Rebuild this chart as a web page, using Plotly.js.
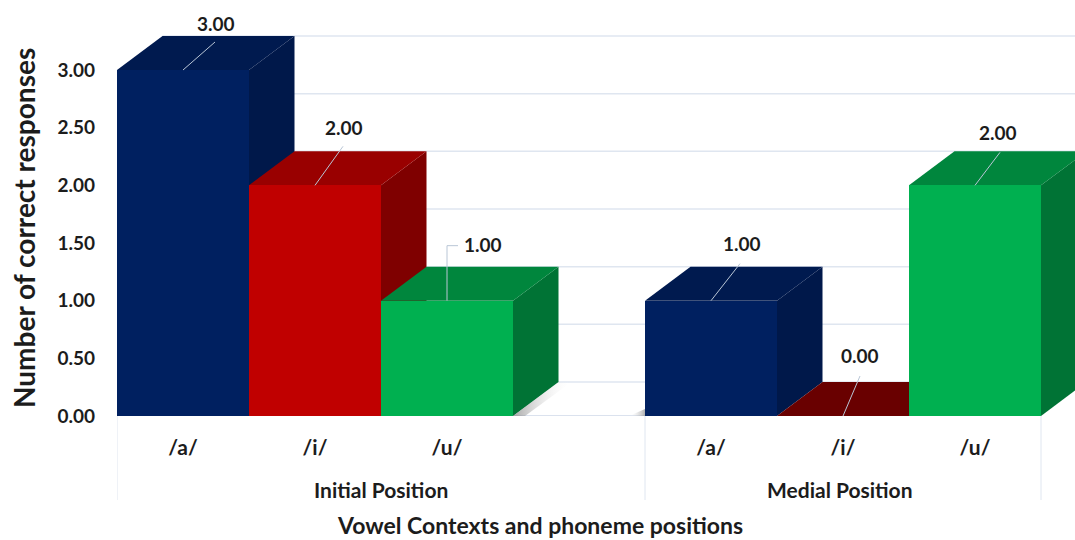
<!DOCTYPE html>
<html>
<head>
<meta charset="utf-8">
<script src="https://cdn.plot.ly/plotly-3.0.1.min.js"></script>
<style>html,body{margin:0;padding:0;background:#fff}#chart{width:1075px;height:540px}</style>
</head>
<body>
<div id="chart"></div>
<script>
// Correct responses per vowel and phoneme position
const vowels = ['/a/', '/i/', '/u/', '/a/', '/i/', '/u/'];
const slots = [0, 1, 2, 4, 5, 6];
const values = [3, 2, 1, 1, 0, 2];
const valueLabels = ['3.00', '2.00', '1.00', '1.00', '0.00', '2.00'];
const groups = ['Initial Position', 'Medial Position'];
const groupCentres = [1.5, 4.98];
const groupEdges = [-0.5, 3.5, 6.5];
const yTicks = [0, 0.5, 1, 1.5, 2, 2.5, 3];
const yTickText = ['0.00', '0.50', '1.00', '1.50', '2.00', '2.50', '3.00'];
const xTitle = 'Vowel Contexts and phoneme positions';
const yTitle = 'Number of correct responses';

// Face colours for each vowel, front / top / side
const frontColours = {'/a/': '#002060', '/i/': '#c00000', '/u/': '#00b050'};
const topColours = {'/a/': '#001a4f', '/i/': '#990000', '/u/': '#00863d'};
const sideColours = {'/a/': '#00184a', '/i/': '#7f0000', '/u/': '#007335'};
const flatTopColour = '#690000';

// Scales: plot area spans 958 x 416 px
const pxPerSlot = 132, pxPerUnit = 115.33;
const plotLeft = 117, plotHeight = 416, plotWidth = 958;
const xRange = [-0.5, -0.5 + plotWidth / pxPerSlot];
const yRange = [0, plotHeight / pxPerUnit];
const depthX = 45.5 / pxPerSlot, depthY = 34 / pxPerUnit;
const FONT = 'Lato, "Open Sans", sans-serif', INK = '#1c1c1c', RULE = '#dfe6f0';

const dxPx = p => p / pxPerSlot, dyPx = p => p / pxPerUnit;

// Leader offsets from the bar's front-top centre, in px (x right, y up), ending at the label
const leaders = [
  [[0, 0], [32, 28]],
  [[0, 0], [28, 39]],
  [[0, 0], [0, 55], [11, 55]],
  [[0, 0], [29, 37]],
  [[0, 0], [17, 40]],
  [[0, 0], [25, 33]]
];
const labelOffsets = [[33, 47], [29, 58], [36, 56], [31, 57], [17, 61], [23, 53]];

const traces = [];

// Shaded side and top faces, painted left to right so nearer bars overlap
slots.forEach((s, i) => {
  const v = values[i], name = vowels[i];
  const l = s - 0.5, r = s + 0.5;
  traces.push({
    type: 'scatter', mode: 'lines', x: [r, r + depthX, r + depthX, r, r], y: [0, depthY, v + depthY, v, 0],
    fill: 'toself', fillcolor: sideColours[name], line: {width: 0}, hoverinfo: 'skip', showlegend: false
  });
  traces.push({
    type: 'scatter', mode: 'lines', x: [l, l + depthX, r + depthX, r, l], y: [v, v + depthY, v + depthY, v, v],
    fill: 'toself', fillcolor: v === 0 ? flatTopColour : topColours[name], line: {width: 0}, hoverinfo: 'skip', showlegend: false
  });
});

// Soft floor shadows either side of the gap between the two groups
const shadow = (x, y, fade) => ({
  type: 'scatter', mode: 'lines', x, y, fill: 'toself', line: {width: 0}, hoverinfo: 'skip', showlegend: false,
  fillcolor: 'rgba(150,150,150,0.5)',
  fillgradient: {type: 'horizontal', colorscale: fade}
});
const fadeOut = [[0, 'rgba(130,130,130,0.7)'], [1, 'rgba(255,255,255,0)']];
const fadeIn = [[0, 'rgba(255,255,255,0)'], [1, 'rgba(140,140,140,0.7)']];
const gapLeft = slots[2] + 0.5, gapRight = slots[3] - 0.5;
traces.splice(6, 0, shadow(
  [gapLeft, gapLeft + depthX, gapLeft + depthX + dxPx(13), gapLeft + dxPx(12), gapLeft],
  [0, depthY, depthY, 0, 0], fadeOut));
traces.splice(0, 0, shadow(
  [gapRight - dxPx(16), gapRight, gapRight, gapRight - dxPx(16)],
  [0, dyPx(7), 0, 0], fadeIn));

// Front faces sit on an overlaid subplot so they paint over the neighbouring faces
traces.push({
  type: 'bar', x: slots, y: values, width: 1, xaxis: 'x2', yaxis: 'y2',
  marker: {color: vowels.map(v => frontColours[v]), line: {width: 0}},
  hoverinfo: 'y', showlegend: false
});

// Leader lines from each bar to its value label
slots.forEach((s, i) => {
  traces.push({
    type: 'scatter', mode: 'lines', xaxis: 'x2', yaxis: 'y2',
    x: leaders[i].map(p => s + dxPx(p[0])),
    y: leaders[i].map(p => values[i] + dyPx(p[1])),
    line: {color: '#b9c6d6', width: 1}, hoverinfo: 'skip', showlegend: false
  });
});

const annotations = slots.map((s, i) => ({
  xref: 'x', yref: 'y', x: s + dxPx(labelOffsets[i][0]), y: values[i] + dyPx(labelOffsets[i][1]),
  text: valueLabels[i], showarrow: false, xanchor: 'center', yanchor: 'middle',
  font: {family: FONT, size: 19, color: INK, weight: 'bold'}
})).concat(groups.map((g, i) => ({
  xref: 'x', yref: 'paper', x: groupCentres[i], y: -73 / plotHeight,
  text: g, showarrow: false, xanchor: 'center', yanchor: 'middle',
  font: {family: FONT, size: 21, color: INK, weight: 'bold'}
}))).concat([{
  // Axis captions are centred on the whole figure rather than the plot area
  xref: 'paper', yref: 'paper', x: (540 - plotLeft) / plotWidth, y: -109 / plotHeight,
  text: xTitle, showarrow: false, xanchor: 'center', yanchor: 'middle',
  font: {family: FONT, size: 23, color: INK, weight: 'bold'}
}, {
  xref: 'paper', yref: 'paper', x: (24 - plotLeft) / plotWidth, y: (416 - 228) / plotHeight,
  text: yTitle, textangle: -90, showarrow: false, xanchor: 'center', yanchor: 'middle',
  font: {family: FONT, size: 28, color: INK, weight: 'bold'}
}]);

// Back-wall gridlines, lifted by the bar depth; baseline and group dividers
const shapes = yTicks.map(t => ({
  type: 'line', layer: 'below', xref: 'x', yref: 'y',
  x0: depthX - 0.5, x1: xRange[1], y0: t + depthY, y1: t + depthY,
  line: {color: RULE, width: 1.5}
})).concat([{
  type: 'line', layer: 'below', xref: 'x', yref: 'y', x0: groupEdges[0], x1: groupEdges[2], y0: 0, y1: 0,
  line: {color: '#cfd9e8', width: 1.5}
}]).concat(groupEdges.map(e => ({
  type: 'line', layer: 'below', xref: 'x', yref: 'paper', x0: e, x1: e, y0: 0, y1: -84 / plotHeight,
  line: {color: RULE, width: 1}
})));

const layout = {
  width: 1075, height: 540,
  margin: {l: plotLeft, r: 0, t: 0, b: 540 - plotHeight, pad: 0},
  paper_bgcolor: '#fff', plot_bgcolor: '#fff',
  font: {family: FONT, color: INK},
  showlegend: false,
  bargap: 0,
  xaxis: {
    range: xRange, tickmode: 'array', tickvals: slots, ticktext: vowels,
    tickfont: {family: FONT, size: 21, color: INK, weight: 'bold'},
    ticks: '', showgrid: false, zeroline: false, showline: false, ticklabelstandoff: 17,
    automargin: false
  },
  yaxis: {
    range: yRange, tickmode: 'array', tickvals: yTicks, ticktext: yTickText,
    tickfont: {family: FONT, size: 19, color: INK, weight: 'bold'},
    ticks: '', showgrid: false, zeroline: false, showline: false, ticklabelstandoff: 21,
    automargin: false
  },
  xaxis2: {range: xRange, overlaying: 'x', visible: false, anchor: 'y2'},
  yaxis2: {range: yRange, overlaying: 'y', visible: false, anchor: 'x2'},
  annotations, shapes
};

Plotly.newPlot('chart', traces, layout, {displayModeBar: false, staticPlot: true});
</script>
</body>
</html>
